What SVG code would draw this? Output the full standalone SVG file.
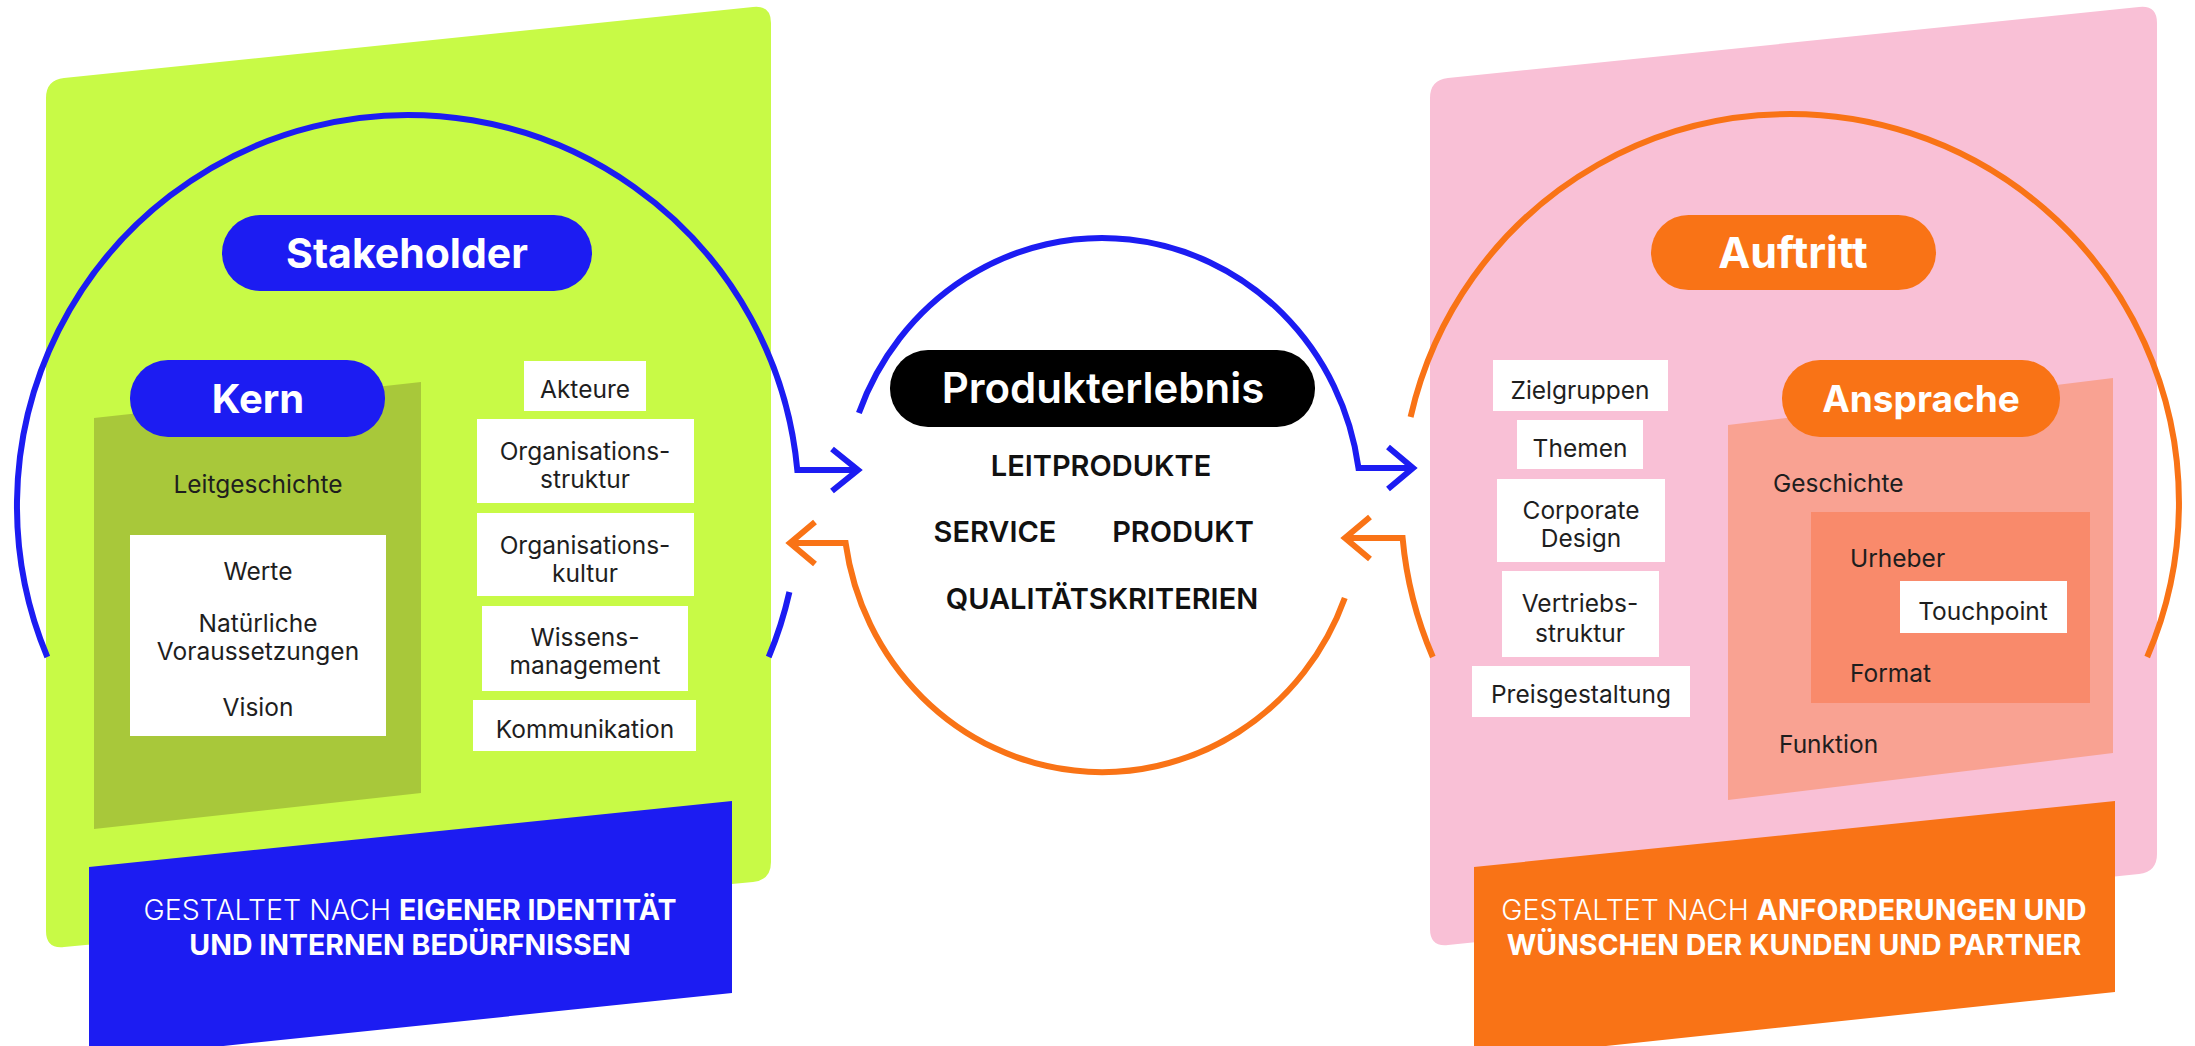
<svg xmlns="http://www.w3.org/2000/svg" width="2195" height="1046" viewBox="0 0 2195 1046">
<style>
.t{font-family:Inter,"Liberation Sans",sans-serif;font-size:24.5px;fill:#1e1e1e}
.c{text-anchor:middle}
.pl{font-family:Inter,"Liberation Sans",sans-serif;font-weight:700;fill:#fff;text-anchor:middle}
.big{font-size:41px}
.mid{font-size:37px}
.box{fill:#fff}
.cap{font-family:Inter,"Liberation Sans",sans-serif;font-weight:600;font-size:29px;fill:#111;text-anchor:middle}
.ban{font-family:Inter,"Liberation Sans",sans-serif;font-size:28.5px;fill:#fff;text-anchor:middle}
.lt{font-weight:300}
.bd{font-weight:700}
.bl{fill:none;stroke:#1c1cf2;stroke-width:6}
.or{fill:none;stroke:#f97316;stroke-width:6}
</style>
<rect width="2195" height="1046" fill="#fff"/>

<g id="panel-left">
<path d="M46,98 Q46,80 64,78 L753,7 Q771,5 771,23 L771,862 Q771,880 753,882 L64,947 Q46,949 46,931 Z" fill="#c8fa46"/>
</g>
<g id="panel-right">
<path d="M1430,98 Q1430,80 1448,78 L2139,7 Q2157,5 2157,23 L2157,854 Q2157,872 2139,874 L1448,945 Q1430,947 1430,929 Z" fill="#f9c0d6"/>
</g>

<g id="banner-left">
<polygon points="89,867 732,801 732,993 89,1060" fill="#1c1cf2"/>
<text class="ban" x="410" y="920"><tspan class="lt">GESTALTET NACH </tspan><tspan class="bd">EIGENER IDENTITÄT</tspan></text>
<text class="ban bd" x="410" y="955">UND INTERNEN BEDÜRFNISSEN</text>
</g>
<g id="banner-right">
<polygon points="1474,867 2115,801 2115,992 1474,1060" fill="#f97316"/>
<text class="ban" x="1794" y="920"><tspan class="lt">GESTALTET NACH </tspan><tspan class="bd">ANFORDERUNGEN UND</tspan></text>
<text class="ban bd" x="1794" y="955">WÜNSCHEN DER KUNDEN UND PARTNER</text>
</g>

<g id="stakeholder">
<rect x="222" y="215" width="370" height="76" rx="38" fill="#1c1cf2"/>
<text class="pl big" x="407" y="268">Stakeholder</text>
</g>

<g id="kern">
<polygon points="94,418 421,382 421,793 94,829" fill="#a8c83a"/>
<rect x="130" y="360" width="255" height="77" rx="38" fill="#1c1cf2"/>
<text class="pl" x="258" y="413" style="font-size:40px">Kern</text>
<text class="t c" x="258" y="493">Leitgeschichte</text>
</g>

<g id="kern-werte">
<rect class="box" x="130" y="535" width="256" height="201"/>
<text class="t c" x="258" y="580">Werte</text>
<text class="t c" x="258" y="632">Natürliche</text>
<text class="t c" x="258" y="660">Voraussetzungen</text>
<text class="t c" x="258" y="716">Vision</text>
</g>

<g id="akteure">
<rect class="box" x="524" y="361" width="122" height="50"/>
<text class="t c" x="585" y="398">Akteure</text>
</g>
<g id="organisationsstruktur">
<rect class="box" x="477" y="419" width="217" height="84"/>
<text class="t c" x="585" y="460">Organisations-</text>
<text class="t c" x="585" y="488">struktur</text>
</g>
<g id="organisationskultur">
<rect class="box" x="477" y="513" width="217" height="83"/>
<text class="t c" x="585" y="554">Organisations-</text>
<text class="t c" x="585" y="582">kultur</text>
</g>
<g id="wissensmanagement">
<rect class="box" x="482" y="606" width="206" height="85"/>
<text class="t c" x="585" y="646">Wissens-</text>
<text class="t c" x="585" y="674">management</text>
</g>
<g id="kommunikation">
<rect class="box" x="473" y="700" width="223" height="51"/>
<text class="t c" x="585" y="738">Kommunikation</text>
</g>

<g id="produkterlebnis">
<rect x="890" y="350" width="425" height="77" rx="38" fill="#000"/>
<text class="pl" x="1103" y="403" style="font-weight:600;font-size:42px">Produkterlebnis</text>
<text class="cap" x="1101" y="476">LEITPRODUKTE</text>
<text class="cap" x="995" y="542">SERVICE</text>
<text class="cap" x="1183" y="542">PRODUKT</text>
<text class="cap" x="1102" y="609">QUALITÄTSKRITERIEN</text>
</g>

<g id="auftritt">
<rect x="1651" y="215" width="285" height="75" rx="37.5" fill="#f97316"/>
<text class="pl" x="1793" y="268" style="font-size:43px">Auftritt</text>
</g>

<g id="zielgruppen">
<rect class="box" x="1493" y="360" width="175" height="51"/>
<text class="t c" x="1580" y="399">Zielgruppen</text>
</g>
<g id="themen">
<rect class="box" x="1517" y="420" width="126" height="49"/>
<text class="t c" x="1580" y="457">Themen</text>
</g>
<g id="corporate-design">
<rect class="box" x="1497" y="479" width="168" height="83"/>
<text class="t c" x="1581" y="519">Corporate</text>
<text class="t c" x="1581" y="547">Design</text>
</g>
<g id="vertriebsstruktur">
<rect class="box" x="1502" y="571" width="157" height="86"/>
<text class="t c" x="1580" y="612">Vertriebs-</text>
<text class="t c" x="1580" y="642">struktur</text>
</g>
<g id="preisgestaltung">
<rect class="box" x="1472" y="666" width="218" height="51"/>
<text class="t c" x="1581" y="703">Preisgestaltung</text>
</g>

<g id="ansprache">
<polygon points="1728,425 2113,378 2113,753 1728,800" fill="#f9a292"/>
<rect x="1782" y="360" width="278" height="77" rx="38" fill="#f97316"/>
<text class="pl mid" x="1921" y="412">Ansprache</text>
<text class="t" x="1773" y="492">Geschichte</text>
<text class="t" x="1779" y="753">Funktion</text>
</g>
<g id="urheber-format">
<rect x="1811" y="512" width="279" height="191" fill="#f98a6b"/>
<text class="t" x="1850" y="567">Urheber</text>
<text class="t" x="1850" y="682">Format</text>
</g>
<g id="touchpoint">
<rect class="box" x="1900" y="581" width="167" height="52"/>
<text class="t c" x="1983" y="620">Touchpoint</text>
</g>

<g id="connectors">
<path class="bl" d="M47.3,657 A391,391 0 1 1 797.3,470 L858,470"/>
<path class="bl" d="M832,449 L858,470 L832,491"/>
<path class="bl" d="M789.4,592 A391,391 0 0 1 768.7,657"/>
<path class="bl" d="M858.9,413 A259,267 0 0 1 1358.5,468 L1413,468"/>
<path class="bl" d="M1388,447 L1413,468 L1388,489"/>
<path class="or" d="M1344.8,598 A259,267 0 0 1 845.6,543 L790,543"/>
<path class="or" d="M815,522 L790,543 L815,564"/>
<path class="or" d="M1410.6,417 A389,389 0 1 1 2147.2,657"/>
<path class="or" d="M1432.8,657 A389,389 0 0 1 1402.6,538 L1345,538"/>
<path class="or" d="M1370,517 L1345,538 L1370,559"/>
</g>
</svg>
